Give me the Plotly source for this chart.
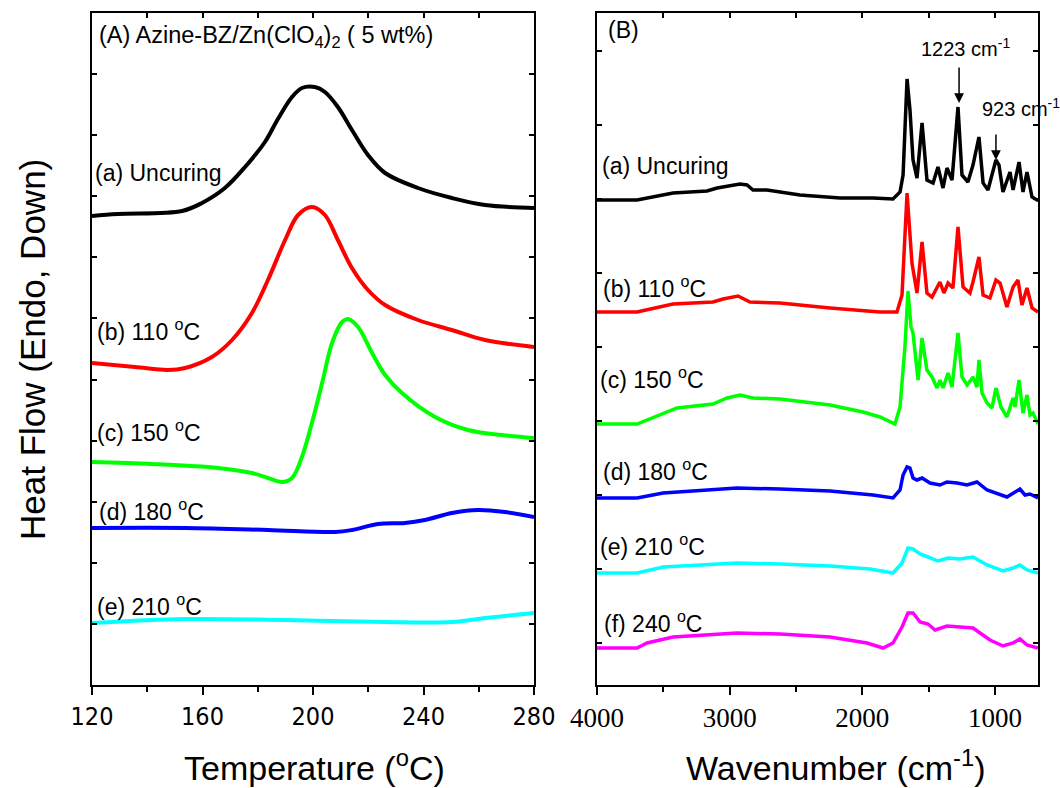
import plotly.graph_objects as go

# ---------------- Panel A: DSC (Temperature, heat flow a.u.) ----------------
T_a = [120, 129.4, 152.6, 159.8, 168.1, 175.4, 182.6, 187.3, 192.4, 196.0, 200.7, 204.3, 209.0, 214.1, 219.9, 226.1, 238.0, 250.3, 262.3, 280]
H_a = [469, 471, 474, 482, 497, 518, 543, 566, 588, 597, 598, 593, 578, 555, 530, 512, 497, 487, 480, 477]

T_b = [120, 135.6, 147.5, 153.7, 163.4, 170.7, 177.9, 183.7, 189.9, 194.6, 199.6, 204.3, 209.0, 214.1, 219.9, 226.1, 238.0, 250.3, 262.3, 280]
H_b = [322, 318, 315, 317, 328, 345, 372, 405, 445, 470, 478, 470, 445, 417, 395, 380, 365, 355, 345, 338]

T_c = [120, 141.7, 165.6, 177.9, 183.7, 188.8, 192.4, 196.0, 199.6, 203.3, 206.9, 210.5, 212.7, 216.3, 221.4, 226.1, 232.2, 244.2, 256.1, 268.4, 280]
H_c = [223, 221, 217, 212, 207, 203, 207, 228, 262, 302, 342, 363, 366, 358, 332, 310, 292, 268, 255, 250, 247]

T_d = [120, 153.7, 183.7, 208.0, 214.1, 223.5, 233.3, 240.5, 250.3, 259.7, 269.5, 280]
H_d = [157, 157, 155, 153, 155, 161, 162, 165, 172, 175, 173, 168]

T_e = [120, 153.7, 189.9, 226.1, 250.3, 262.3, 280]
H_e = [62, 66, 65, 63, 63, 67, 72]

dsc_names = ["(a) Uncuring", "(b) 110 <sup>o</sup>C", "(c) 150 <sup>o</sup>C", "(d) 180 <sup>o</sup>C", "(e) 210 <sup>o</sup>C"]

# ---------------- Panel B: FTIR (wavenumber, absorbance a.u.) ----------------
W_a = [4000, 3698, 3427, 3171, 3095, 3020, 2922, 2869, 2824, 2719, 2470, 2168, 1920, 1769, 1716, 1693, 1663, 1641, 1618, 1588, 1550, 1513, 1467, 1430, 1392, 1362, 1324, 1279, 1249, 1204, 1166, 1121, 1090, 1053, 993, 970, 940, 887, 864, 819, 789, 759, 721, 683, 676]
A_a = [485, 485, 492, 494, 497, 499, 501, 500, 495, 495, 490, 487, 487, 486, 493, 510, 606, 575, 525, 507, 562, 505, 502, 518, 497, 517, 505, 578, 510, 503, 520, 548, 502, 495, 525, 520, 493, 513, 495, 523, 493, 513, 488, 485, 485]

W_b = [4000, 3698, 3427, 3126, 3050, 2937, 2847, 2621, 2244, 1867, 1739, 1701, 1663, 1626, 1588, 1550, 1513, 1475, 1415, 1385, 1354, 1317, 1279, 1241, 1189, 1166, 1121, 1090, 1038, 993, 962, 910, 864, 827, 797, 759, 721, 676]
A_b = [373, 373, 381, 383, 386, 389, 383, 382, 377, 373, 373, 390, 492, 422, 392, 443, 392, 388, 403, 392, 402, 397, 458, 398, 392, 403, 428, 390, 387, 405, 402, 378, 398, 405, 380, 397, 377, 373]

W_c = [4000, 3698, 3397, 3126, 3020, 2922, 2824, 2621, 2244, 1995, 1867, 1754, 1716, 1679, 1656, 1633, 1618, 1580, 1550, 1513, 1475, 1437, 1415, 1392, 1354, 1324, 1279, 1249, 1211, 1166, 1136, 1121, 1098, 1060, 1023, 993, 955, 910, 864, 849, 819, 789, 759, 736, 714, 683, 676]
A_c = [261, 261, 277, 281, 287, 290, 287, 286, 280, 273, 268, 261, 278, 338, 394, 358, 352, 305, 347, 315, 308, 297, 305, 297, 312, 298, 352, 308, 300, 308, 298, 325, 292, 282, 277, 297, 278, 268, 287, 278, 305, 272, 290, 270, 272, 262, 261]

W_d = [4000, 3698, 3502, 3374, 2945, 2621, 2244, 1920, 1769, 1716, 1693, 1663, 1641, 1618, 1588, 1550, 1490, 1415, 1362, 1287, 1211, 1136, 1060, 910, 864, 812, 774, 736, 676]
A_d = [187, 187, 192, 193, 197, 196, 194, 190, 187, 195, 210, 218, 217, 207, 205, 207, 202, 200, 203, 202, 200, 203, 195, 188, 192, 196, 190, 191, 187]

W_e = [4000, 3698, 3502, 3374, 2945, 2621, 2244, 1942, 1769, 1701, 1656, 1618, 1565, 1505, 1430, 1354, 1264, 1166, 1060, 940, 864, 812, 759, 676]
A_e = [112, 112, 118, 119, 122, 121, 119, 116, 112, 122, 137, 136, 131, 128, 124, 127, 126, 128, 120, 114, 117, 120, 115, 112]

W_f = [4000, 3698, 3623, 3427, 2945, 2621, 2244, 1965, 1844, 1769, 1701, 1656, 1618, 1565, 1505, 1452, 1362, 1264, 1166, 1038, 940, 864, 812, 759, 676]
A_f = [37, 37, 42, 48, 52, 51, 48, 42, 37, 42, 58, 72, 72, 63, 61, 55, 59, 58, 57, 45, 39, 42, 46, 40, 37]

ir_names = ["(a) Uncuring", "(b) 110 <sup>o</sup>C", "(c) 150 <sup>o</sup>C", "(d) 180 <sup>o</sup>C", "(e) 210 <sup>o</sup>C", "(f) 240 <sup>o</sup>C"]

colors = ["#000000", "#FF0000", "#00FF00", "#0000FF", "#00FFFF", "#FF00FF"]

FONT = "Liberation Sans, Arial, sans-serif"
NARROW = "Liberation Sans Narrow, Arial Narrow, DejaVu Sans Condensed, sans-serif"
SERIF = "Liberation Serif, Times New Roman, serif"

fig = go.Figure()

dsc = [(T_a, H_a), (T_b, H_b), (T_c, H_c), (T_d, H_d), (T_e, H_e)]
for i, (t, h) in enumerate(dsc):
    fig.add_trace(go.Scatter(x=t, y=h, mode="lines", xaxis="x", yaxis="y",
                             line=dict(color=colors[i], width=4, shape="spline", smoothing=1.0),
                             showlegend=False, hoverinfo="skip"))

ir = [(W_a, A_a), (W_b, A_b), (W_c, A_c), (W_d, A_d), (W_e, A_e), (W_f, A_f)]
for i, (w, a) in enumerate(ir):
    fig.add_trace(go.Scatter(x=w, y=a, mode="lines", xaxis="x2", yaxis="y2",
                             line=dict(color=colors[i], width=3.5),
                             showlegend=False, hoverinfo="skip"))

W_PX, H_PX = 1060, 788
def px_x(p):
    return p / W_PX
def px_y(p):
    return 1 - p / H_PX

dom_y = [px_y(685), px_y(13)]
dom_x1 = [px_x(92), px_x(534)]
dom_x2 = [px_x(597), px_x(1038)]

axis_common = dict(showline=True, linecolor="black", linewidth=2, showgrid=False, zeroline=False, automargin=False)

fig.update_layout(
    template="none",
    width=W_PX, height=H_PX,
    margin=dict(l=0, r=0, t=0, b=0, pad=0),
    paper_bgcolor="white", plot_bgcolor="white",
    font=dict(family=FONT, color="black"),
    xaxis=dict(domain=dom_x1, range=[120, 280], anchor="y", tickvals=[120, 160, 200, 240, 280],
               ticks="outside", ticklen=8, tickwidth=1.5, tickcolor="black", mirror=True,
               minor=dict(tickvals=[140, 180, 220, 260], ticks="outside", ticklen=5, tickwidth=1.5, tickcolor="black"),
               tickfont=dict(size=25, family=NARROW), **axis_common),
    xaxis3=dict(overlaying="x", matches="x", side="top", anchor="y", range=[120, 280],
                tickvals=[120, 140, 160, 180, 200, 220, 240, 260, 280], ticks="inside", ticklen=5,
                tickwidth=1.5, tickcolor="black", showticklabels=False, showline=False, showgrid=False,
                zeroline=False, automargin=False),
    yaxis=dict(domain=dom_y, range=[0, 672], anchor="x", tick0=0, dtick=61.1, ticks="inside", ticklen=5,
               tickwidth=1.5, tickcolor="black", showticklabels=False, mirror="ticks", **axis_common),
    xaxis2=dict(domain=dom_x2, range=[4000, 676], anchor="y2", tickvals=[4000, 3000, 2000, 1000],
                ticks="outside", ticklen=8, tickwidth=1.5, tickcolor="black", mirror=True,
                minor=dict(tickvals=[3500, 2500, 1500], ticks="outside", ticklen=5, tickwidth=1.5, tickcolor="black"),
                tickfont=dict(size=27, family=SERIF), **axis_common),
    xaxis4=dict(overlaying="x2", matches="x2", side="top", anchor="y2", range=[4000, 676],
                tickvals=[4000, 3500, 3000, 2500, 2000, 1500, 1000], ticks="inside", ticklen=5,
                tickwidth=1.5, tickcolor="black", showticklabels=False, showline=False, showgrid=False,
                zeroline=False, automargin=False),
    yaxis2=dict(domain=dom_y, range=[0, 672], anchor="x2", tick0=42, dtick=74, ticks="inside", ticklen=5,
                tickwidth=1.5, tickcolor="black", showticklabels=False, mirror="ticks", **axis_common),
)

# dummy traces to activate top overlay axes
fig.add_trace(go.Scatter(x=[None], y=[None], xaxis="x3", yaxis="y", showlegend=False))
fig.add_trace(go.Scatter(x=[None], y=[None], xaxis="x4", yaxis="y2", showlegend=False))

ann = []
LBL = 23
# panel A labels
ann.append(dict(x=121.8, y=648, xref="x", yref="y", xanchor="left", yanchor="middle", showarrow=False,
                text="(A) Azine-BZ/Zn(ClO<sub>4</sub>)<sub>2</sub> ( 5 wt%)", font=dict(size=23.5)))
dsc_lab_pos = [(120.4, 512), (121.1, 355), (121.1, 254), (121.8, 175), (121.1, 80)]
for (x, y), t in zip(dsc_lab_pos, dsc_names):
    ann.append(dict(x=x, y=y, xref="x", yref="y", xanchor="left", yanchor="middle", showarrow=False,
                    text=t, font=dict(size=LBL)))
# panel B labels
ann.append(dict(x=3932, y=655, xref="x2", yref="y2", xanchor="left", yanchor="middle", showarrow=False,
                text="(B)", font=dict(size=LBL)))
ir_lab_pos = [(3977, 519), (3970, 398), (3992, 307), (3970, 215), (3992, 140), (3962, 63)]
for (x, y), t in zip(ir_lab_pos, ir_names):
    ann.append(dict(x=x, y=y, xref="x2", yref="y2", xanchor="left", yanchor="middle", showarrow=False,
                    text=t, font=dict(size=LBL)))
# peak annotations
ann.append(dict(x=1226, y=637, xref="x2", yref="y2", xanchor="center", yanchor="middle", showarrow=False,
                text="1223 cm<sup>-1</sup>", font=dict(size=20)))
ann.append(dict(x=1271, y=582, xref="x2", yref="y2", ax=0, ay=-37, showarrow=True, arrowhead=2,
                arrowsize=1.3, arrowwidth=1.5, arrowcolor="black", text=""))
ann.append(dict(x=1113, y=577, xref="x2", yref="y2", xanchor="left", yanchor="middle", showarrow=False,
                text="923 cm<sup>-1</sup>", font=dict(size=20)))
ann.append(dict(x=993, y=525, xref="x2", yref="y2", ax=0, ay=-27, showarrow=True, arrowhead=2,
                arrowsize=1.3, arrowwidth=1.5, arrowcolor="black", text=""))
# axis titles
ann.append(dict(x=px_x(33), y=px_y(350), xref="paper", yref="paper", textangle=-90, showarrow=False,
                text="Heat Flow (Endo, Down)", font=dict(size=35), xanchor="center", yanchor="middle"))
ann.append(dict(x=px_x(314), y=px_y(765), xref="paper", yref="paper", showarrow=False,
                text="Temperature (<sup>o</sup>C)", font=dict(size=34), xanchor="center", yanchor="middle"))
ann.append(dict(x=px_x(836), y=px_y(765), xref="paper", yref="paper", showarrow=False,
                text="Wavenumber (cm<sup>-1</sup>)", font=dict(size=34), xanchor="center", yanchor="middle"))

fig.update_layout(annotations=ann)

fig.write_html("out.html", config={"displayModeBar": False},
               post_script="document.body.style.margin='0px';document.body.style.overflow='hidden';")
